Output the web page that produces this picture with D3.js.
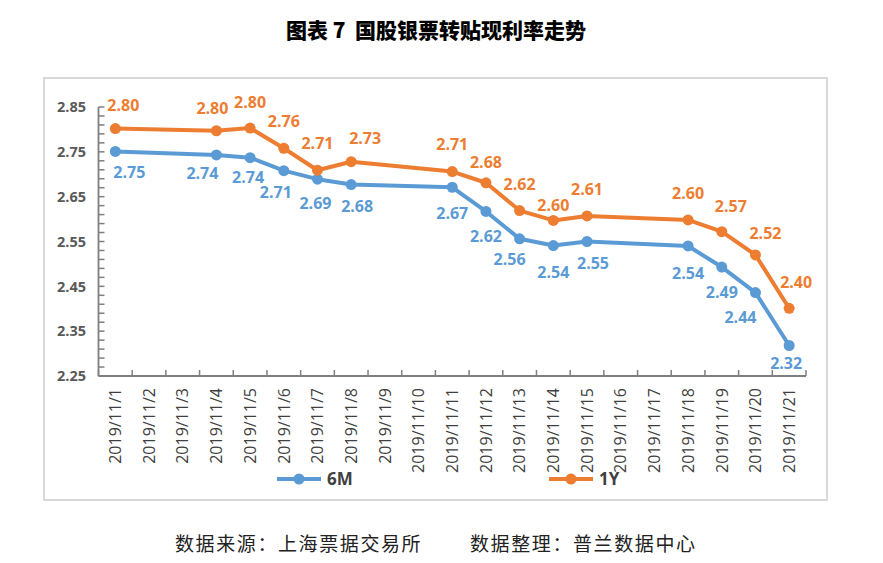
<!DOCTYPE html>
<html>
<head>
<meta charset="utf-8">
<script src="https://cdn.jsdelivr.net/npm/d3@7"></script>
<style>
  body { margin: 0; background: #fff; }
  svg { display: block; }
</style>
</head>
<body>
<script>
// categories and series (gaps = no quote that day)
const dates = ['2019/11/1','2019/11/2','2019/11/3','2019/11/4','2019/11/5','2019/11/6','2019/11/7',
  '2019/11/8','2019/11/9','2019/11/10','2019/11/11','2019/11/12','2019/11/13','2019/11/14',
  '2019/11/15','2019/11/16','2019/11/17','2019/11/18','2019/11/19','2019/11/20','2019/11/21'];
const m6 = [2.751, null, null, 2.743, 2.737, 2.708, 2.689, 2.677, null, null, 2.671, 2.617,
  2.556, 2.541, 2.550, null, null, 2.540, 2.493, 2.436, 2.318];
const y1 = [2.802, null, null, 2.797, 2.803, 2.758, 2.709, 2.728, null, null, 2.706, 2.681,
  2.619, 2.597, 2.607, null, null, 2.598, 2.572, 2.520, 2.401];
const yTicks = [2.25, 2.35, 2.45, 2.55, 2.65, 2.75, 2.85];

// label nudges (dx, dy from the point), as placed in the original
const nudge1Y = {'2019/11/1':[8,-23],'2019/11/4':[-4,-23],'2019/11/5':[0,-26],'2019/11/6':[0,-27],
  '2019/11/7':[0,-27],'2019/11/8':[14,-23],'2019/11/11':[0,-27],'2019/11/12':[0,-21],
  '2019/11/13':[0,-26],'2019/11/14':[0,-15],'2019/11/15':[0,-27],'2019/11/18':[0,-27],
  '2019/11/19':[9,-25],'2019/11/20':[10,-22],'2019/11/21':[7,-26]};
const nudge6M = {'2019/11/1':[14,21],'2019/11/4':[-14,18],'2019/11/5':[-2,20],'2019/11/6':[-8,22],
  '2019/11/7':[-2,24],'2019/11/8':[6,22],'2019/11/11':[0,26],'2019/11/12':[0,25],
  '2019/11/13':[-10,20],'2019/11/14':[0,27],'2019/11/15':[6,22],'2019/11/18':[0,27],
  '2019/11/19':[0,25],'2019/11/20':[-15,25],'2019/11/21':[-3,18]};

const w = 883, h = 563;
const plotL = 98.5, plotR = 806, plotT = 107, plotB = 376;
const blue = '#5b9bd5', orange = '#ed7d31', axisCol = '#7f7f7f';
const latin = '"Open Sans", "Noto Sans", sans-serif';

const svg = d3.select('body').append('svg').attr('width', w).attr('height', h);

// title
svg.append('text')
  .attr('x', 436).attr('y', 38)
  .attr('text-anchor', 'middle')
  .style('font-family', '"Noto Sans CJK SC"')
  .style('font-weight', 900)
  .style('font-size', '21px')
  .style('white-space', 'pre')
  .attr('fill', '#000')
  .text('图表 7  国股银票转贴现利率走势');

// chart frame
svg.append('rect')
  .attr('x', 44).attr('y', 78).attr('width', 783).attr('height', 422)
  .attr('fill', 'none').attr('stroke', '#d9d9d9').attr('stroke-width', 2);

const x = d3.scaleBand().domain(dates).range([plotL, plotR]);
const y = d3.scaleLinear().domain([2.25, 2.85]).range([plotB, plotT]);
const cx = d => x(d) + x.bandwidth() / 2;

// y axis: minor ticks every 0.02, all inside
const minor = d3.range(0, 31).map(i => +(2.25 + i * 0.02).toFixed(2));
svg.append('g').selectAll('line').data(minor).enter().append('line')
  .attr('x1', plotL).attr('x2', plotL + 6)
  .attr('y1', d => y(d)).attr('y2', d => y(d))
  .attr('stroke', axisCol).attr('stroke-width', 1.5);
svg.append('line')
  .attr('x1', plotL).attr('x2', plotL).attr('y1', plotT).attr('y2', plotB)
  .attr('stroke', axisCol).attr('stroke-width', 1.8);
svg.append('g').selectAll('text').data(yTicks).enter().append('text')
  .attr('x', 86).attr('y', d => y(d)).attr('dy', '0.36em')
  .attr('text-anchor', 'end')
  .style('font-family', latin).style('font-weight', 'bold').style('font-size', '14.5px')
  .attr('fill', '#595959')
  .text(d => d.toFixed(2));

// x axis with ticks at category boundaries
const bounds = dates.map(d => x(d)).concat([plotR]);
svg.append('g').selectAll('line').data(bounds).enter().append('line')
  .attr('x1', d => d).attr('x2', d => d).attr('y1', plotB).attr('y2', plotB - 6)
  .attr('stroke', axisCol).attr('stroke-width', 1.5);
svg.append('line')
  .attr('x1', plotL).attr('x2', plotR).attr('y1', plotB).attr('y2', plotB)
  .attr('stroke', axisCol).attr('stroke-width', 1.8);
svg.append('g').selectAll('text').data(dates).enter().append('text')
  .attr('transform', d => `translate(${cx(d)},388) rotate(-90)`)
  .attr('dy', '0.36em')
  .attr('text-anchor', 'end')
  .style('font-family', latin).style('font-size', '16px')
  .attr('fill', '#3f3f3f')
  .text(d => d);

// series
const series = [
  {name: '6M', vals: m6, color: blue, nudge: nudge6M},
  {name: '1Y', vals: y1, color: orange, nudge: nudge1Y}
];
const line = d3.line().x(d => cx(d.date)).y(d => y(d.v));

series.forEach(s => {
  const pts = dates.map((d, i) => ({date: d, v: s.vals[i]})).filter(p => p.v != null);
  svg.append('path').datum(pts)
    .attr('d', line)
    .attr('fill', 'none').attr('stroke', s.color).attr('stroke-width', 4)
    .attr('stroke-linejoin', 'round');
  svg.append('g').selectAll('circle').data(pts).enter().append('circle')
    .attr('cx', d => cx(d.date)).attr('cy', d => y(d.v)).attr('r', 5.5)
    .attr('fill', s.color);
  svg.append('g').selectAll('text').data(pts).enter().append('text')
    .attr('x', d => cx(d.date) + s.nudge[d.date][0])
    .attr('y', d => y(d.v) + s.nudge[d.date][1])
    .attr('dy', '0.36em')
    .attr('text-anchor', 'middle')
    .style('font-family', latin).style('font-weight', 'bold').style('font-size', '16px')
    .attr('fill', s.color)
    .text(d => d.v.toFixed(2));
});

// legend
const legend = [
  {name: '6M', color: blue, x0: 277},
  {name: '1Y', color: orange, x0: 549}
];
legend.forEach(l => {
  svg.append('line')
    .attr('x1', l.x0).attr('x2', l.x0 + 44).attr('y1', 479).attr('y2', 479)
    .attr('stroke', l.color).attr('stroke-width', 4);
  svg.append('circle').attr('cx', l.x0 + 22).attr('cy', 479).attr('r', 5.5).attr('fill', l.color);
  svg.append('text')
    .attr('x', l.x0 + 50).attr('y', 479).attr('dy', '0.36em')
    .style('font-family', latin).style('font-weight', 'bold').style('font-size', '17px')
    .attr('fill', '#404040')
    .text(l.name);
});

// source note
const note = [
  {t: '数据来源：上海票据交易所', x0: 175},
  {t: '数据整理：普兰数据中心', x0: 470}
];
svg.append('g').selectAll('text').data(note).enter().append('text')
  .attr('x', d => d.x0).attr('y', 551)
  .style('font-family', '"Noto Sans CJK SC"').style('font-size', '19px')
  .style('letter-spacing', '1.6px')
  .attr('fill', '#222')
  .text(d => d.t);
</script>
</body>
</html>
